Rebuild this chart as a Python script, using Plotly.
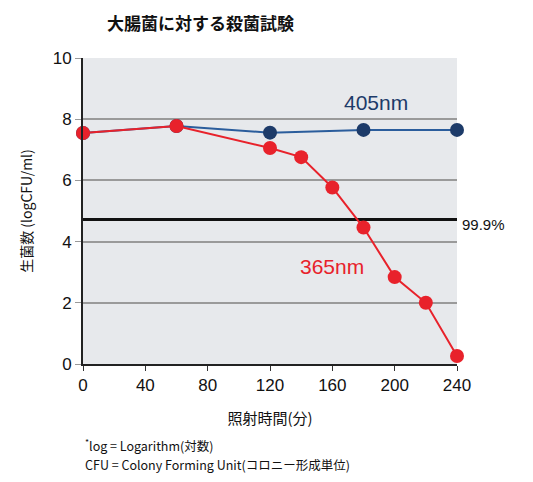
import plotly.graph_objects as go

minutes = [0, 60, 120, 140, 160, 180, 200, 220, 240]
log_365 = [7.55, 7.78, 7.06, 6.76, 5.77, 4.46, 2.84, 2.0, 0.26]

minutes_405 = [0, 60, 120, 180, 240]
log_405 = [7.55, 7.78, 7.56, 7.65, 7.65]

kill_level = 4.72
x_ticks = [0, 40, 80, 120, 160, 200, 240]
y_ticks = [0, 2, 4, 6, 8, 10]

JP = "Noto Sans CJK JP"
RED = "#e8222b"
NAVY = "#1d3b69"

fig = go.Figure()
fig.add_trace(go.Scatter(
    x=minutes_405, y=log_405, mode="lines+markers", name="405nm",
    line=dict(color="#2b5d9c", width=2),
    marker=dict(color=NAVY, size=14),
    cliponaxis=False,
))
fig.add_trace(go.Scatter(
    x=minutes, y=log_365, mode="lines+markers", name="365nm",
    line=dict(color=RED, width=2),
    marker=dict(color=RED, size=14),
    cliponaxis=False,
))

fig.add_shape(type="line", xref="x", yref="y", x0=0, x1=240, y0=kill_level, y1=kill_level,
              line=dict(color="#111111", width=3), layer="below")

fig.add_annotation(x=240, y=kill_level, xref="x", yref="y", text="99.9%", showarrow=False,
                   xanchor="left", xshift=3, yshift=-5,
                   font=dict(family="Liberation Sans", size=15, color="#111111"))
fig.add_annotation(x=188, y=8.55, xref="x", yref="y", text="405nm", showarrow=False,
                   font=dict(family="Liberation Sans", size=21, color=NAVY))
fig.add_annotation(x=160, y=3.2, xref="x", yref="y", text="365nm", showarrow=False,
                   font=dict(family="Liberation Sans", size=21, color=RED))

fig.add_annotation(x=0.058, y=1.162, xref="paper", yref="paper", text="<b>大腸菌に対する殺菌試験</b>",
                   showarrow=False, xanchor="left", yanchor="top",
                   font=dict(family=JP, size=17, color="#111111"))
fig.add_annotation(x=0.0, y=-0.265, xref="paper", yref="paper",
                   text="<sup>*</sup>log = Logarithm(対数)",
                   showarrow=False, xanchor="left", yanchor="middle", align="left",
                   font=dict(family=JP, size=12.5, color="#111111"))
fig.add_annotation(x=0.0, y=-0.33, xref="paper", yref="paper",
                   text="CFU = Colony Forming Unit(コロニー形成単位)",
                   showarrow=False, xanchor="left", yanchor="middle", align="left",
                   font=dict(family=JP, size=12.5, color="#111111"))

# page body has an 8px margin, so the plot box is pulled up/left by 8px
fig.update_layout(
    width=533, height=482,
    margin=dict(l=75, r=84, t=50, b=126, autoexpand=False),
    paper_bgcolor="white",
    plot_bgcolor="#e7e9ec",
    showlegend=False,
    font=dict(family="Liberation Sans", color="#111111"),
)
fig.update_xaxes(
    range=[0, 240], tickvals=x_ticks, ticks="outside", ticklen=5, tickcolor="#333",
    showgrid=False, zeroline=False, showline=True, linecolor="#222", linewidth=2,
    tickfont=dict(size=17), automargin=False,
    title=dict(text="照射時間(分)", font=dict(family=JP, size=15), standoff=19),
)
fig.update_yaxes(
    range=[0, 10], tickvals=y_ticks, ticks="outside", ticklen=6, tickcolor="#999",
    showgrid=True, gridcolor="#9a9a9a", gridwidth=2, zeroline=False,
    showline=True, linecolor="#222", linewidth=2,
    tickfont=dict(size=17), automargin=False,
    title=dict(text="生菌数 (logCFU/ml)", font=dict(family=JP, size=14), standoff=17),
)

fig.write_html("out.html")
